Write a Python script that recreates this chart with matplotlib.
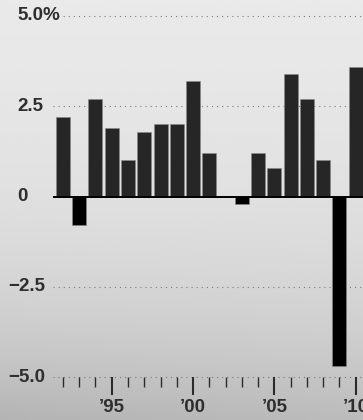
import numpy as np
import matplotlib.pyplot as plt
from matplotlib.transforms import blended_transform_factory

years = list(range(1992, 2011))
growth = [2.2, -0.8, 2.7, 1.9, 1.0, 1.8, 2.0, 2.0, 3.2, 1.2,
          0.0, -0.2, 1.2, 0.8, 3.4, 2.7, 1.0, -4.7, 3.6]
y_ticks = [5.0, 2.5, 0, -2.5, -5.0]
y_labels = ['5.0%', '2.5', '0', '\u22122.5', '\u22125.0']
x_major = [1995, 2000, 2005, 2010]
x_labels = ['\u201995', '\u201900', '\u201905', '\u201910']

plt.rcParams['font.family'] = ['Liberation Sans', 'DejaVu Sans']

W, H = 363, 420
fig = plt.figure(figsize=(W / 100, H / 100), dpi=100)

# background gradient, light at top, darker at the bottom
bg = fig.add_axes([0, 0, 1, 1], zorder=-10)
yy, xx = np.mgrid[0:1:200j, 0:1:200j]
shade = 0.915 - 0.05 * yy - 0.13 * yy ** 3 - 0.03 * (1 - xx) * yy ** 4
bg.imshow(shade, cmap='gray', vmin=0, vmax=1, aspect='auto',
          extent=[0, 1, 0, 1], origin='upper', interpolation='bicubic')
bg.axis('off')

left, right = 53 / W, 1.0
bottom, top = (H - 377) / H, (H - 16) / H
ax = fig.add_axes([left, bottom, right - left, top - bottom])
ax.patch.set_alpha(0)
ax.set_xlim(1991.39, 2010.45)
ax.set_ylim(-5, 5)
for s in ax.spines.values():
    s.set_visible(False)

for v in y_ticks:
    if v == 0:
        continue
    x0 = 5 / (W - 53) if v == 5.0 else 0
    ax.axhline(v, xmin=x0, xmax=1, color='#7a7a7a', lw=0.8,
               linestyle=(0, (1.0, 3.6)), clip_on=False, zorder=1)

cols = ['#262626' if g >= 0 else '#000000' for g in growth]
ax.bar(years, growth, width=0.86, color=cols, edgecolor='#8a8a8a',
       linewidth=0.4, zorder=2)
ax.axhline(0, color='black', lw=1.4, zorder=3)

# y labels drawn as text so the minus hangs to the left
trans = blended_transform_factory(fig.transFigure, ax.transData)
for v, lab in zip(y_ticks, y_labels):
    xpx = 8 if v < 0 else 17
    ax.text(xpx / W, v, lab, transform=trans, ha='left', va='center',
            fontsize=13.5, fontweight='bold', color='#2e2e2e')
ax.set_yticks([])

ax.set_xticks(x_major)
ax.set_xticklabels(x_labels, fontsize=13.5, fontweight='bold', color='#2e2e2e')
ax.set_xticks(years, minor=True)
ax.tick_params(axis='x', which='major', direction='out', length=13,
               width=1.5, color='#2b2b2b', pad=3)
ax.tick_params(axis='x', which='minor', direction='out', length=7,
               width=1.0, color='#2b2b2b')

fig.savefig('out.png', dpi=100)
